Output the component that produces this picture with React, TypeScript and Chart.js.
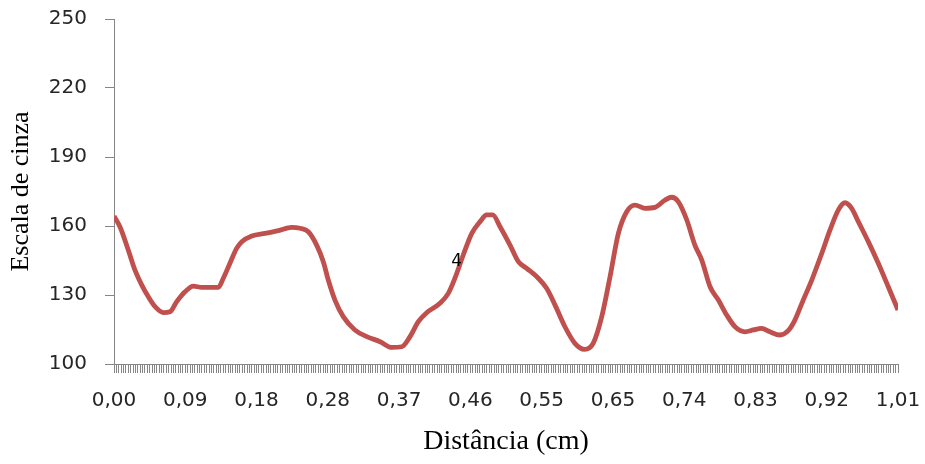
import React, { useEffect, useRef } from "react";
import { Chart, registerables } from "chart.js";

Chart.register(...registerables);

// Profile sample index (0..330, one tick per sample) and gray level
const sampleIdx: number[] = [
  0, 2.5, 6, 8.8, 11.7, 14.4, 17.3, 20.8, 23.6, 26.4, 29.9, 33.4, 36.9, 43.9, 46, 48.8,
  51.6, 53.8, 58, 63.6, 69.2, 74.8, 78.3, 81.8, 85.3, 88.1, 90.2, 93, 96.5, 101.4, 106.4,
  112, 116.9, 121.1, 124.6, 128.1, 131.6, 137.2, 140.7, 143.5, 147, 150.6, 154.1, 156.9,
  159.4, 162.5, 166.7, 170.2, 173.7, 178.6, 182.1, 185.6, 189.8, 194, 198, 201.7, 205.3,
  208.8, 212.3, 215.8, 219.3, 223.5, 227.7, 232, 234.7, 237.5, 241.1, 244.5, 247.4, 250.9,
  254.4, 257.9, 261.4, 265.6, 269.1, 272.6, 276.1, 280.3, 283.8, 286.6, 290.1, 293.7,
  297.9, 301.4, 304.9, 307.7, 310.5, 313.3, 317.5, 321.7, 325.9, 330,
];
const grayLevel: number[] = [
  164.3, 159.7, 149.6, 140.9, 134.3, 129.3, 124.9, 122.3, 122.7, 127.1, 131.4, 133.9, 133.3,
  133.3, 137.3, 143.8, 150.3, 153.2, 155.7, 156.8, 158, 159.4, 159, 157.5, 151.7, 144.5,
  136.5, 127.8, 120.6, 114.8, 111.9, 109.7, 107.2, 107.5, 111.9, 118.4, 122.3, 126.4, 130.7,
  137.3, 147.4, 156.8, 161.9, 164.8, 164.8, 159.7, 151.7, 144.5, 141.6, 137.3, 132.9, 125.7,
  116.2, 109, 106.4, 109, 120.6, 138, 156.8, 166.2, 169.1, 167.7, 168.1, 171.3, 172.5, 170.6,
  162.6, 151.7, 145.2, 133.6, 127.8, 121.3, 116.2, 114, 114.8, 115.5, 114, 112.6, 114.5,
  119.1, 127.8, 136.5, 148.1, 158.3, 167, 170.1, 167.7, 161.9, 153.2, 143.8, 133.6, 123.5,
];

// Distance tick labels, one every 30 samples
const xLabels: string[] = [
  "0,00", "0,09", "0,18", "0,28", "0,37", "0,46", "0,55", "0,65", "0,74", "0,83", "0,92", "1,01",
];
const labelEvery = 30;

const yMin = 100;
const yMax = 250;
const yStep = 30;

// Text annotation on the curve
const noteText = "4";
const noteIdx = 144.2;
const noteValue = 144.6;

const AXIS_GRAY = "#868686";

export default function App() {
  const canvasRef = useRef<HTMLCanvasElement | null>(null);

  useEffect(() => {
    if (!canvasRef.current) return;
    const notePlugin = {
      id: "notePlugin",
      afterDatasetsDraw(chart: any) {
        const { ctx, scales } = chart;
        const x = scales.x.getPixelForValue(noteIdx);
        const y = scales.y.getPixelForValue(noteValue);
        ctx.save();
        ctx.font = "17px 'DejaVu Sans'";
        ctx.fillStyle = "#000";
        ctx.textAlign = "center";
        ctx.textBaseline = "middle";
        ctx.fillText(noteText, x, y);
        ctx.restore();
      },
    };

    const chart = new Chart(canvasRef.current, {
      type: "line",
      data: {
        datasets: [
          {
            label: "Escala de cinza",
            data: sampleIdx.map((x, i) => ({ x, y: grayLevel[i] })),
            borderColor: "#c0504d",
            borderWidth: 4.8,
            pointRadius: 0,
            tension: 0.4,
            cubicInterpolationMode: "monotone",
            fill: false,
          },
        ],
      },
      options: {
        animation: false,
        responsive: true,
        maintainAspectRatio: false,
        layout: { padding: { top: 19, right: 27, left: 0, bottom: 0 } },
        plugins: { legend: { display: false }, tooltip: { enabled: false } },
        scales: {
          x: {
            type: "linear",
            min: 0,
            max: (xLabels.length - 1) * labelEvery,
            afterFit: (s: any) => {
              s.height = 100;
              s.paddingLeft = 0;
              s.paddingRight = 0;
            },
            grid: {
              drawOnChartArea: false,
              drawTicks: true,
              tickLength: 9,
              color: AXIS_GRAY,
              lineWidth: 1,
            },
            border: { color: AXIS_GRAY, width: 1 },
            ticks: {
              stepSize: 1,
              autoSkip: false,
              maxRotation: 0,
              minRotation: 0,
              padding: 16,
              color: "#262626",
              font: { family: "'DejaVu Sans'", size: 20 },
              callback: (v: any) => {
                const n = Math.round(Number(v));
                return n % labelEvery === 0 ? xLabels[n / labelEvery] ?? "" : "";
              },
            },
            title: {
              display: true,
              text: "Distância (cm)",
              color: "#000",
              font: { family: "'Liberation Serif'", size: 28 },
              padding: { top: 0, bottom: 6 },
            },
          },
          y: {
            min: yMin,
            max: yMax,
            afterFit: (s: any) => {
              s.width = 114;
              s.paddingTop = 0;
              s.paddingBottom = 0;
            },
            grid: {
              drawOnChartArea: false,
              drawTicks: true,
              tickLength: 9,
              color: AXIS_GRAY,
            },
            border: { color: AXIS_GRAY, width: 1 },
            ticks: {
              stepSize: yStep,
              padding: 18,
              color: "#262626",
              font: { family: "'DejaVu Sans'", size: 20 },
            },
            title: {
              display: true,
              text: "Escala de cinza",
              color: "#000",
              font: { family: "'Liberation Serif'", size: 26 },
              padding: { top: 6, bottom: 0 },
            },
          },
        },
      },
      plugins: [notePlugin],
    });
    return () => chart.destroy();
  }, []);

  return (
    <div style={{ position: "fixed", left: 0, top: 0, width: 925, height: 464, background: "#fff" }}>
      <canvas ref={canvasRef} />
    </div>
  );
}
